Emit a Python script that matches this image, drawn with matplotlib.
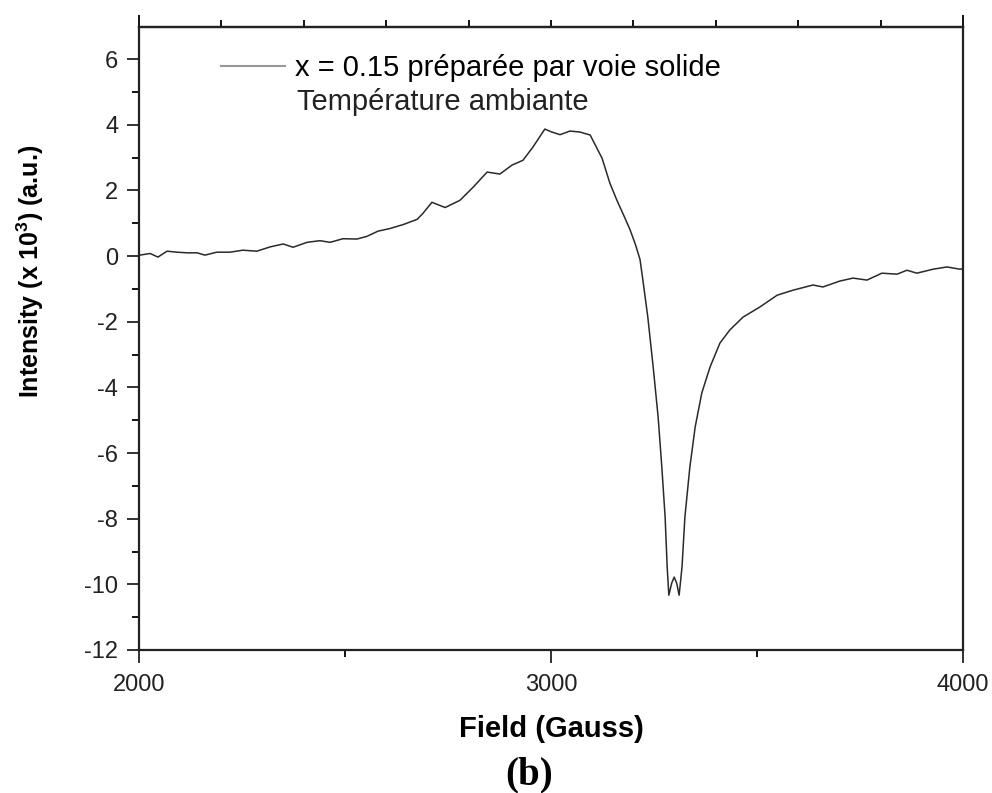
import matplotlib
matplotlib.use('Agg')
import matplotlib.pyplot as plt
from matplotlib.ticker import MultipleLocator, FixedLocator

plt.rcParams['font.family'] = ['Liberation Sans', 'DejaVu Sans']
plt.rcParams['axes.unicode_minus'] = False

# EPR spectrum (field in G, intensity in 10^3 a.u.)
field = [2000, 2002, 2027, 2046, 2068, 2092, 2117, 2141, 2160, 2189, 2221,
         2252, 2286, 2318, 2350, 2374, 2408, 2439, 2464, 2495, 2529, 2553,
         2580, 2609, 2641, 2675, 2689, 2711, 2743, 2779, 2811, 2845, 2876,
         2905, 2932, 2956, 2985, 3002, 3022, 3046, 3070, 3095, 3124, 3143,
         3160, 3178, 3192, 3205, 3216, 3223, 3235, 3248, 3260, 3269, 3277,
         3282, 3286, 3293, 3299, 3305, 3311, 3318, 3325, 3337, 3350, 3366,
         3386, 3410, 3434, 3466, 3507, 3549, 3587, 3636, 3660, 3701, 3733,
         3767, 3803, 3840, 3864, 3888, 3927, 3961, 3993, 4000]
intensity = [0.05, 0.03, 0.08, -0.03, 0.15, 0.12, 0.10, 0.10, 0.03, 0.12, 0.12,
             0.18, 0.15, 0.28, 0.37, 0.27, 0.42, 0.47, 0.42, 0.53, 0.52, 0.60,
             0.76, 0.84, 0.96, 1.12, 1.30, 1.64, 1.48, 1.70, 2.10, 2.56, 2.50,
             2.77, 2.92, 3.32, 3.87, 3.78, 3.70, 3.81, 3.78, 3.69, 2.98, 2.22,
             1.70, 1.20, 0.80, 0.35, -0.10, -0.73, -1.86, -3.38, -4.90, -6.43, -7.95,
             -9.47, -10.33, -9.96, -9.78, -9.96, -10.33, -9.47, -7.95, -6.43, -5.20, -4.17,
             -3.38, -2.65, -2.25, -1.86, -1.55, -1.19, -1.04, -0.88, -0.94, -0.76, -0.67,
             -0.73, -0.52, -0.55, -0.43, -0.52, -0.40, -0.33, -0.40, -0.38]

label = 'x = 0.15 préparée par voie solide'
label2 = 'Température ambiante'

fig = plt.figure(figsize=(9.92, 7.93), dpi=100)
ax = fig.add_axes([139/992, 1 - 650/793, (963 - 139)/992, (650 - 27)/793])

ax.plot(field, intensity, color='#2a2a2a', lw=1.1, label=label)

ax.set_xlim(2000, 4000)
ax.set_ylim(-12, 6.98)

ax.xaxis.set_major_locator(FixedLocator([2000, 3000, 4000]))
ax.xaxis.set_minor_locator(FixedLocator([2500, 3500]))
ax.yaxis.set_major_locator(MultipleLocator(2))
ax.yaxis.set_minor_locator(MultipleLocator(1))
ax.tick_params(axis='both', which='major', direction='out', length=9, width=1.3,
               labelsize=17, colors='#222222')
ax.tick_params(axis='both', which='minor', direction='out', length=5, width=1.3)
ax.tick_params(axis='x', pad=8)
ax.tick_params(axis='y', pad=6)

# top axis ticks
top = ax.secondary_xaxis('top')
top.xaxis.set_major_locator(FixedLocator([2000, 4000]))
top.xaxis.set_minor_locator(FixedLocator(list(range(2200, 4000, 200))))
top.tick_params(which='major', direction='out', length=9, width=1.3, labeltop=False)
top.tick_params(which='minor', direction='out', length=5, width=1.3)
top.spines['top'].set_linewidth(1.6)
top.spines['top'].set_color('#222222')

for s in ax.spines.values():
    s.set_linewidth(1.6)
    s.set_color('#222222')

ax.set_xlabel('Field (Gauss)', fontsize=21, fontweight='bold', labelpad=14)
ax.set_ylabel('Intensity (x 10$^{\\mathregular{3}}$) (a.u.)', fontsize=18,
              fontweight='bold')
ax.yaxis.set_label_coords(-0.113, 0.607)

leg = ax.legend(loc='upper left', bbox_to_anchor=(0.085, 0.975), frameon=False,
                fontsize=21, handlelength=2.2, handletextpad=0.35, borderaxespad=0)
leg.get_lines()[0].set_color('#999999')
leg.get_lines()[0].set_linewidth(1.5)
ax.text(0.192, 0.867, label2, transform=ax.transAxes, fontsize=21, color='#222222')

fig.text(0.533, 0.023, '(b)', ha='center', va='center', fontsize=28,
         fontweight='bold', family=['Liberation Serif'])

fig.savefig('out.png', dpi=100)
